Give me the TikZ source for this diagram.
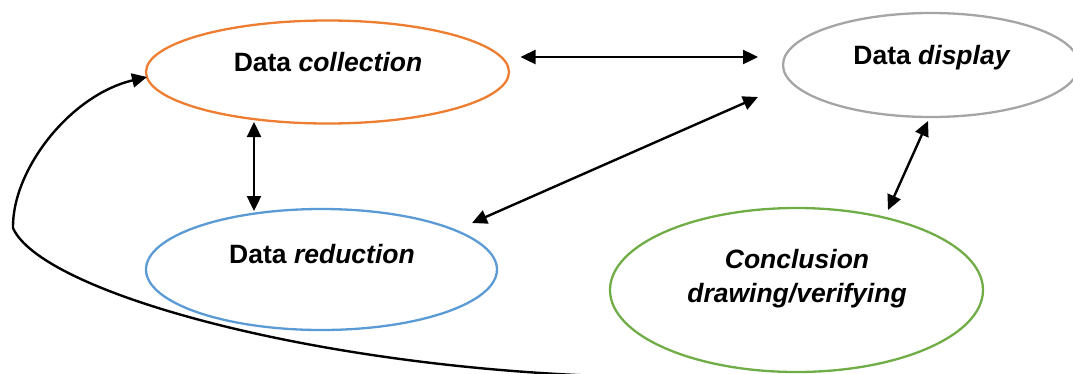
\documentclass[tikz,border=0pt]{standalone}
\usepackage{fontspec}
\setmainfont{Liberation Sans}
\usetikzlibrary{shapes.geometric,arrows.meta}
\definecolor{cOrange}{HTML}{ED7D31}
\definecolor{cBlue}{HTML}{5B9BD5}
\definecolor{cGray}{HTML}{A5A5A5}
\definecolor{cGreen}{HTML}{70AD47}
\begin{document}
\begin{tikzpicture}[x=1pt,y=-1pt,
  ell/.style={ellipse, draw, line width=2.3pt, inner sep=0pt, outer sep=0pt},
  lbl/.style={anchor=base, font=\fontsize{26.5}{34}\selectfont\bfseries, align=center, inner sep=0pt},
  tipA/.tip={Triangle[length=15pt,width=14pt]},
  arr/.style={line width=2.4pt, tipA-tipA},
  loop/.style={line width=2.4pt, -tipA}
  ]
\useasboundingbox (0,0) rectangle (1073,373);
% ellipses
\node[ell, draw=cOrange, minimum width=363pt, minimum height=103pt] (col) at (327.5,72) {};
\node[ell, draw=cBlue,   minimum width=351pt, minimum height=121pt] (red) at (321.5,269.5) {};
\node[ell, draw=cGray,   minimum width=296pt, minimum height=104pt] (dis) at (931,65) {};
\node[ell, draw=cGreen,  minimum width=373pt, minimum height=164pt] (con) at (796.5,290) {};
% labels
\node[lbl] (tcol) at (328,71) {Data \textit{collection}};
\node[lbl] (tred) at (322,263) {Data \textit{reduction}};
\node[lbl] (tdis) at (932,64) {Data \textit{display}};
\node[lbl] (tcon) at (797,302) {\textit{Conclusion}\\\textit{drawing/verifying}};
% arrow end points
\coordinate (colR) at (520.5,57);
\coordinate (disL) at (758,57);
\coordinate (colB) at (254,122);
\coordinate (redT) at (254,211);
\coordinate (redR) at (472,223);
\coordinate (disLB) at (758,97);
\coordinate (disB) at (928,121);
\coordinate (conT) at (888,210);
\coordinate (loopS) at (600,376);
\coordinate (loopL) at (13,228);
\coordinate (colL) at (147,77);
% connectors
\draw[arr] (colR) -- (disL);
\draw[arr] (colB) -- (redT);
\draw[arr] (redR) -- (disLB);
\draw[arr] (disB) -- (conT);
\draw[loop] (loopS) .. controls (300,365) and (40,290) .. (loopL)
  .. controls (12,170) and (70,95) .. (colL);
\end{tikzpicture}
\end{document}
